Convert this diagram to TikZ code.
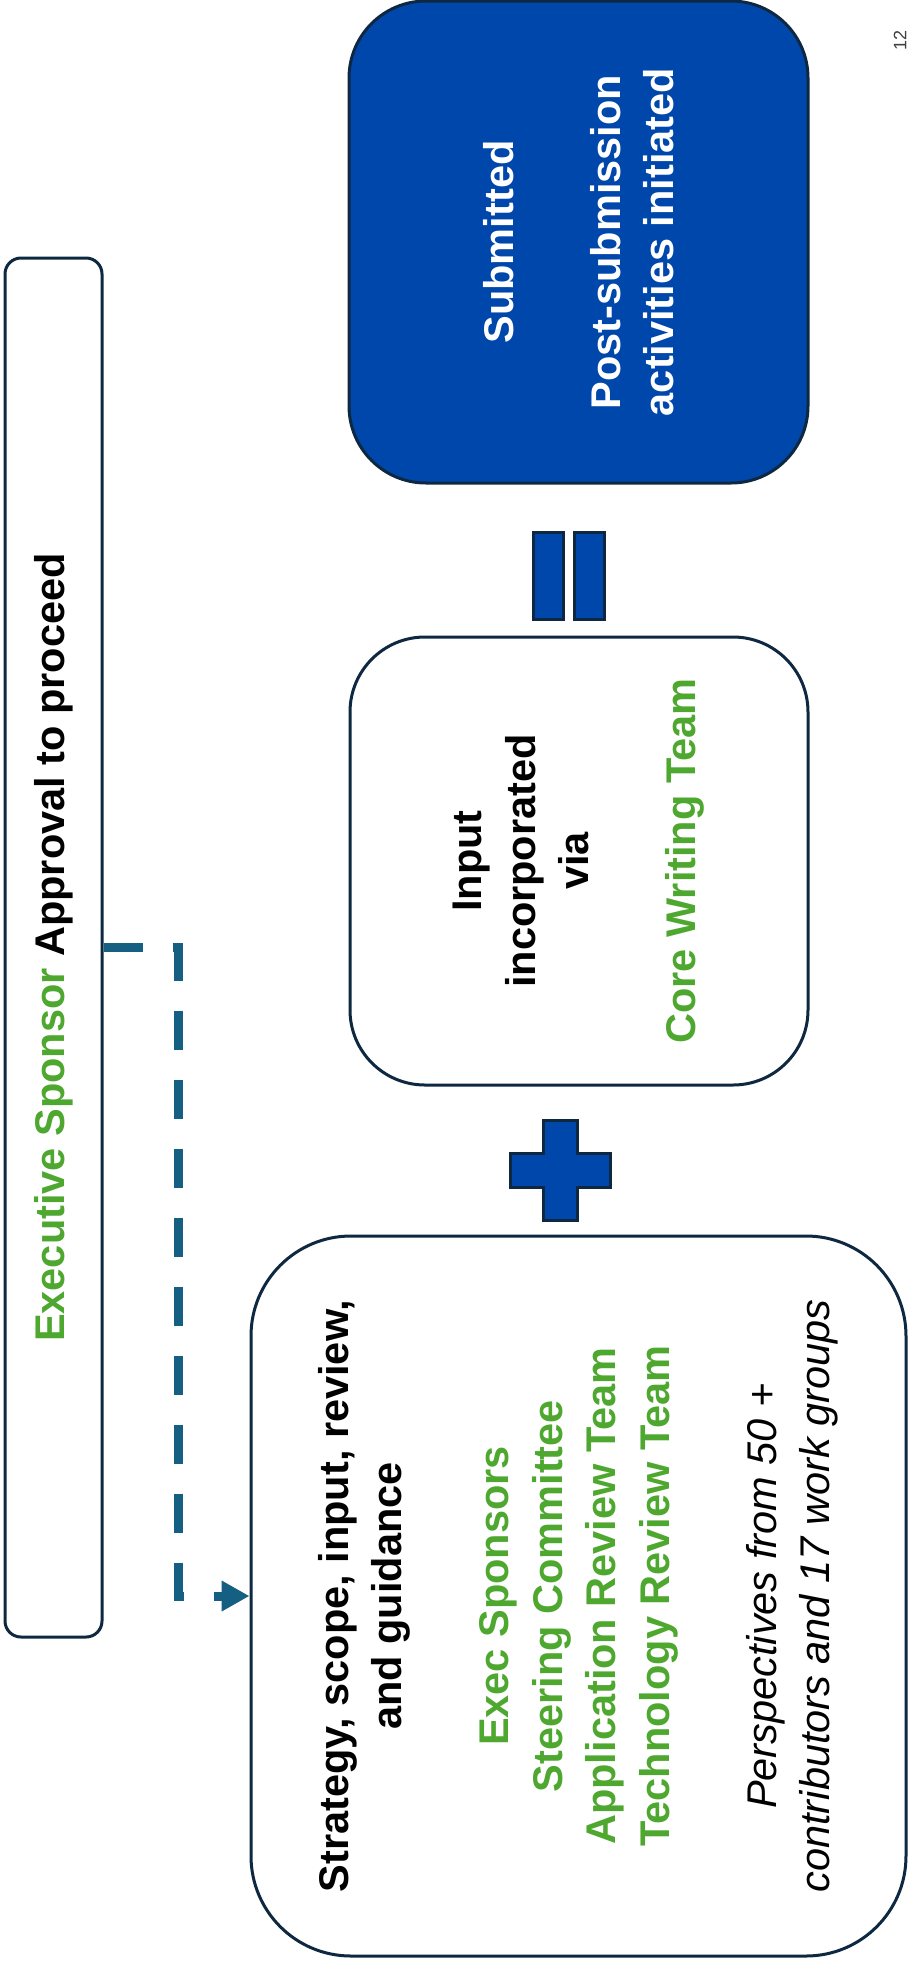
\documentclass[tikz,border=0pt]{standalone}
\usepackage{fontspec}
\setmainfont{Liberation Sans}
\usetikzlibrary{arrows.meta}
\definecolor{navyline}{HTML}{0E2841}
\definecolor{teamgreen}{HTML}{4EA72E}
\definecolor{linkteal}{HTML}{156082}
\definecolor{cobalt}{HTML}{0047AB}
\definecolor{pagegray}{HTML}{404040}
\newcommand\grn[1]{\textcolor{teamgreen}{#1}}
\tikzset{
  stage/.style={draw=navyline, line width=3pt, rounded corners=#1, rotate=90,
    align=center, inner sep=0pt, font=\bfseries\fontsize{41.5}{53.5}\selectfont},
  stage/.default=75pt,
  link/.style={draw=linkteal, line width=9pt, dash pattern=on 39pt off 30pt,
    -{Triangle[length=28pt,width=29pt]}},
  sign/.style={fill=cobalt, draw=navyline, line width=3pt}
}
\begin{document}
\begin{tikzpicture}[x=1pt,y=-1pt]
\useasboundingbox (0,0) rectangle (908,1965);
\fill[white] (0,0) rectangle (908,1965);

\node[stage=16pt, minimum width=1379pt, minimum height=97pt] (approval) at (53.5,947.5)
  {\grn{Executive Sponsor} Approval to proceed};

\node[stage=77pt, fill=cobalt, text=white, minimum width=482pt, minimum height=459pt] (submitted) at (578.5,242)
  {Submitted\\[53.5pt]Post-submission\\activities initiated};
\node[stage=75pt, minimum width=448pt, minimum height=458pt] (input) at (579,861)
  {Input\\incorporated\\via\\[53.5pt]\grn{Core Writing Team}};
\node[stage=100pt, minimum width=720pt, minimum height=655pt] (guidance) at (578.5,1596)
  {Strategy, scope, input, review,\\and guidance\\[53.5pt]
   \grn{Exec Sponsors}\\\grn{Steering Committee}\\\grn{Application Review Team}\\\grn{Technology Review Team}\\[53.5pt]
   {\mdseries\itshape Perspectives from 50 +}\\{\mdseries\itshape contributors and 17 work groups}};

\draw[link] (approval.south) -- ++(75,0) |- (guidance.north);

\draw[sign] (543,1120) -- (577,1120) -- (577,1153) -- (610,1153) -- (610,1187) -- (577,1187)
  -- (577,1220) -- (543,1220) -- (543,1187) -- (510,1187) -- (510,1153) -- (543,1153) -- cycle;
\draw[sign] (533,532) rectangle (563,619);
\draw[sign] (574,532) rectangle (604,619);

\node[rotate=90, text=pagegray, inner sep=0pt, font=\fontsize{18}{20}\selectfont] (pagenum) at (900,40) {12};
\end{tikzpicture}
\end{document}
